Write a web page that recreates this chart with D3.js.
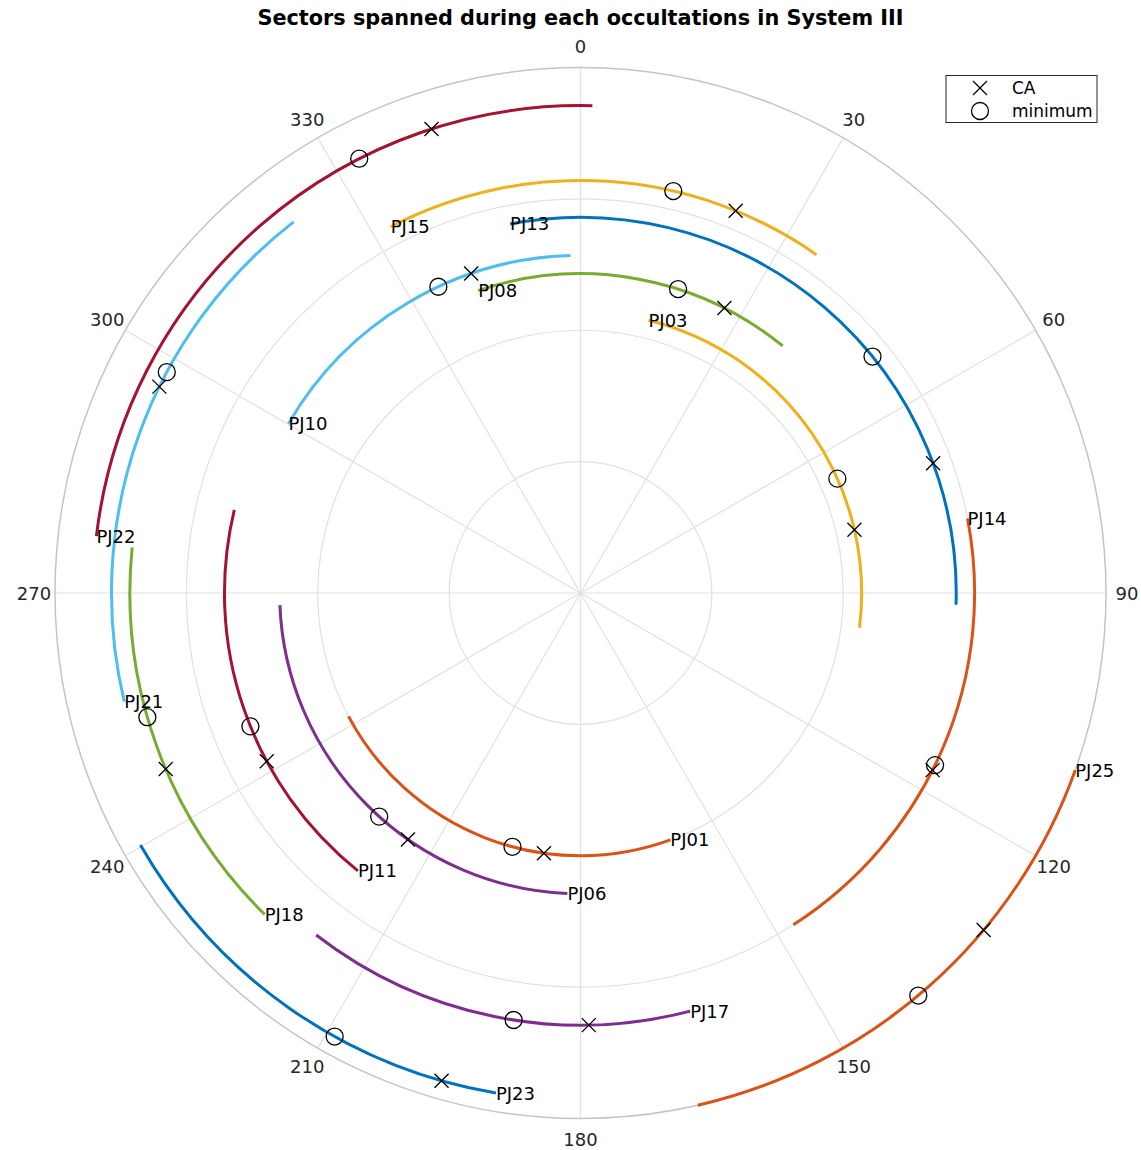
<!DOCTYPE html>
<html>
<head>
<meta charset="utf-8">
<script src="https://cdn.jsdelivr.net/npm/d3@7"></script>
<style>
  html, body { margin: 0; padding: 0; background: #fff; }
  svg { display: block; font-family: "DejaVu Sans", sans-serif; }
</style>
</head>
<body>
<svg id="chart" width="1141" height="1150"></svg>
<script>
// Perijove passes, one arc per occultation (System III longitude, degrees clockwise from top)
const passes   = ["PJ01","PJ03","PJ06","PJ08","PJ10","PJ11","PJ13","PJ14","PJ15","PJ17","PJ18","PJ21","PJ22","PJ23","PJ25"];
const ringR    = [2.00, 2.14, 2.29, 2.43, 2.57, 2.71, 2.86, 3.00, 3.14, 3.29, 3.43, 3.57, 3.71, 3.86, 4.00];
const lonStart = [160.0, 14.0, 182.5, -18.7, -59.9, 218.7, -10.8, 79.1, -27.4, 165.3, 224.5, 256.6, 276.7, 189.6, 109.7];
const lonEnd   = [242.0, 97.1, 267.7, 39.3, -1.7, 283.5, 91.8, 147.3, 34.9, 217.7, 275.8, 322.3, 361.4, 240.2, 167.1];
const lonCA    = [188.0, 77.0, 215.0, 26.8, -18.9, 241.8, 69.8, 116.7, 22.1, 178.9, 247.0, 296.1, 342.2, 195.9, 129.9];
const lonMin   = [195.0, 66.0, 222.0, 17.8, -24.9, 248.0, 51.0, 115.9, 13.0, 188.9, 254.0, 298.1, 333.0, 209.0, 140.0];

// Angular and radial tick settings
const thetaTicks = [0, 30, 60, 90, 120, 150, 180, 210, 240, 270, 300, 330];
const rTicks = [1, 2, 3, 4];
const rMax = 4;

const palette = ["#0072BD", "#D95319", "#EDB120", "#7E2F8E", "#77AC30", "#4DBEEE", "#A2142F"];

const svg = d3.select("#chart");
const cx = 580.5, cy = 593, R = 525.5;

const r = d3.scaleLinear().domain([0, rMax]).range([0, R]);
const th = d3.scaleLinear().domain([0, 360]).range([0, 2 * Math.PI]);

// polar -> screen, angle measured clockwise from the top
const px = (deg, rv) => cx + r(rv) * Math.sin(th(deg));
const py = (deg, rv) => cy - r(rv) * Math.cos(th(deg));

// Title
svg.append("text")
  .attr("x", cx).attr("y", 18)
  .attr("text-anchor", "middle").attr("dominant-baseline", "central")
  .attr("font-size", 20.8).attr("font-weight", "bold").attr("fill", "#000")
  .text("Sectors spanned during each occultations in System III");

const grid = svg.append("g");

// Radial grid rings
grid.selectAll("circle.ring")
  .data(rTicks.filter(d => d < rMax))
  .join("circle")
  .attr("cx", cx).attr("cy", cy).attr("r", d => r(d))
  .attr("fill", "none").attr("stroke", "#e1e1e1").attr("stroke-width", 1.2);

// Angular spokes
grid.selectAll("line.spoke")
  .data(thetaTicks)
  .join("line")
  .attr("x1", cx).attr("y1", cy)
  .attr("x2", d => px(d, rMax)).attr("y2", d => py(d, rMax))
  .attr("stroke", "#e1e1e1").attr("stroke-width", 1.2);

// Outer boundary
grid.append("circle")
  .attr("cx", cx).attr("cy", cy).attr("r", r(rMax))
  .attr("fill", "none").attr("stroke", "#c4c4c4").attr("stroke-width", 1.5);

// Theta tick labels
grid.selectAll("text.tick")
  .data(thetaTicks)
  .join("text")
  .attr("x", d => cx + (R + 21) * Math.sin(th(d)))
  .attr("y", d => cy - (R + 21) * Math.cos(th(d)))
  .attr("text-anchor", "middle").attr("dominant-baseline", "central")
  .attr("font-size", 18).attr("fill", "#262626")
  .text(d => d);

const rows = passes.map((name, i) => ({
  name, rv: ringR[i], a0: lonStart[i], a1: lonEnd[i],
  ca: lonCA[i], mn: lonMin[i], color: palette[(i + 1) % palette.length]
}));

// Arcs
svg.append("g").selectAll("path")
  .data(rows)
  .join("path")
  .attr("d", d => {
    const p = d3.path();
    p.arc(cx, cy, r(d.rv), th(d.a0 - 90), th(d.a1 - 90), false);
    return p.toString();
  })
  .attr("fill", "none").attr("stroke", d => d.color).attr("stroke-width", 3);

// Minimum markers (circles)
svg.append("g").selectAll("circle")
  .data(rows)
  .join("circle")
  .attr("cx", d => px(d.mn, d.rv)).attr("cy", d => py(d.mn, d.rv)).attr("r", 8.5)
  .attr("fill", "none").attr("stroke", "#000").attr("stroke-width", 1.3);

// Closest-approach markers (crosses)
const xm = 7;
const crossPath = (x, y) => `M${x - xm},${y - xm}L${x + xm},${y + xm}M${x - xm},${y + xm}L${x + xm},${y - xm}`;
svg.append("g").selectAll("path")
  .data(rows)
  .join("path")
  .attr("d", d => crossPath(px(d.ca, d.rv), py(d.ca, d.rv)))
  .attr("fill", "none").attr("stroke", "#000").attr("stroke-width", 1.3);

// Pass labels at the start of each arc
svg.append("g").selectAll("text")
  .data(rows)
  .join("text")
  .attr("x", d => px(d.a0, d.rv)).attr("y", d => py(d.a0, d.rv))
  .attr("dominant-baseline", "central")
  .attr("font-size", 18).attr("fill", "#000")
  .text(d => d.name);

// Legend
const lg = svg.append("g");
lg.append("rect")
  .attr("x", 946).attr("y", 75.5).attr("width", 151).attr("height", 47)
  .attr("fill", "#fff").attr("stroke", "#262626").attr("stroke-width", 1);
lg.append("path").attr("d", crossPath(980, 88))
  .attr("fill", "none").attr("stroke", "#000").attr("stroke-width", 1.3);
lg.append("circle").attr("cx", 980).attr("cy", 111).attr("r", 8.5)
  .attr("fill", "none").attr("stroke", "#000").attr("stroke-width", 1.3);
lg.append("text").attr("x", 1012).attr("y", 88).attr("dominant-baseline", "central")
  .attr("font-size", 17).attr("fill", "#000").text("CA");
lg.append("text").attr("x", 1012).attr("y", 111).attr("dominant-baseline", "central")
  .attr("font-size", 17).attr("fill", "#000").text("minimum");
</script>
</body>
</html>
